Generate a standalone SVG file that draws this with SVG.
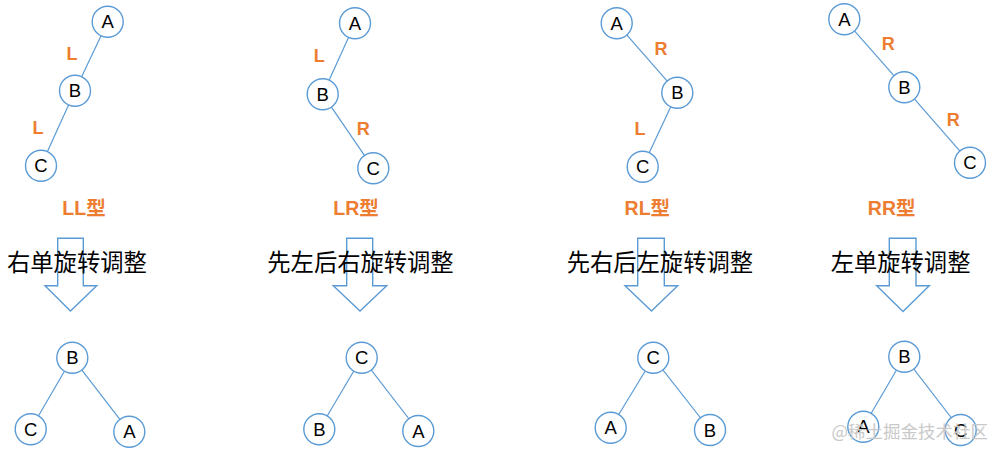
<svg xmlns="http://www.w3.org/2000/svg" width="996" height="451" viewBox="0 0 996 451">
<style>
.n circle{fill:#fff;stroke:#5b9bd5;stroke-width:1.4}
.n text{font-family:"Liberation Sans","Open Sans",sans-serif;font-size:18.5px;fill:#000;text-anchor:middle}
.e line{stroke:#5b9bd5;stroke-width:1.2}
.lbl{font-family:"Liberation Sans","Open Sans",sans-serif;font-weight:bold;font-size:18px;fill:#ed7d31;text-anchor:middle}
.ty{font-family:"Liberation Sans","Noto Sans CJK SC",sans-serif;font-weight:bold;font-size:19.5px;fill:#ed7d31;text-anchor:middle}
.arr{fill:none;stroke:#5b9bd5;stroke-width:1.4;stroke-linejoin:miter}
.cap{font-family:"Noto Sans CJK SC",sans-serif;font-size:23.3px;fill:#000}
.wm{font-family:"Noto Sans CJK SC",sans-serif;font-size:17.5px;fill:#c9c9c9}
</style>
<g id="arrows">
<polygon class="arr" points="57.7,238.3 83.3,238.3 83.3,285.7 96.7,285.7 70.5,311 45,285.7 57.7,285.7"/>
<polygon class="arr" points="346.7,238.3 372.7,238.3 372.7,285.7 386.7,285.7 360,311 333.3,285.7 346.7,285.7"/>
<polygon class="arr" points="637.7,238.3 664.3,238.3 664.3,285.7 677.7,285.7 651.5,311 625,285.7 637.7,285.7"/>
<polygon class="arr" points="889.3,238.3 916,238.3 916,285.7 929.3,285.7 903,311.5 876.7,285.7 889.3,285.7"/>
</g>
<g id="connectors" class="e">
<line x1="107.7" y1="21.7" x2="75" y2="90.7"/>
<line x1="75" y1="90.7" x2="41" y2="165.7"/>
<line x1="355" y1="23.3" x2="322.7" y2="94.3"/>
<line x1="322.7" y1="94.3" x2="373.3" y2="168.3"/>
<line x1="616.7" y1="23.3" x2="677.3" y2="92.7"/>
<line x1="677.3" y1="92.7" x2="642.7" y2="166.7"/>
<line x1="844.3" y1="19.3" x2="904.3" y2="87.3"/>
<line x1="904.3" y1="87.3" x2="970" y2="162.7"/>
<line x1="72.3" y1="357.7" x2="30.7" y2="429.3"/>
<line x1="72.3" y1="357.7" x2="129.3" y2="431.7"/>
<line x1="361.7" y1="357.7" x2="319.3" y2="429.3"/>
<line x1="361.7" y1="357.7" x2="418.3" y2="431"/>
<line x1="653.3" y1="357.7" x2="610.7" y2="427.7"/>
<line x1="653.3" y1="357.7" x2="710" y2="430"/>
<line x1="904.3" y1="356.7" x2="863.3" y2="426.7"/>
<line x1="904.3" y1="356.7" x2="960.7" y2="430"/>
</g>
<g id="p1-A" class="n"><circle cx="107.7" cy="21.7" r="15.5"/><text x="107.7" y="28.3">A</text></g>
<g id="p1-B" class="n"><circle cx="75" cy="90.7" r="15.5"/><text x="75" y="97.3">B</text></g>
<g id="p1-C" class="n"><circle cx="41" cy="165.7" r="15.5"/><text x="41" y="172.3">C</text></g>
<g id="p2-A" class="n"><circle cx="355" cy="23.3" r="15.5"/><text x="355" y="29.9">A</text></g>
<g id="p2-B" class="n"><circle cx="322.7" cy="94.3" r="15.5"/><text x="322.7" y="100.9">B</text></g>
<g id="p2-C" class="n"><circle cx="373.3" cy="168.3" r="15.5"/><text x="373.3" y="174.9">C</text></g>
<g id="p3-A" class="n"><circle cx="616.7" cy="23.3" r="15.5"/><text x="616.7" y="29.9">A</text></g>
<g id="p3-B" class="n"><circle cx="677.3" cy="92.7" r="15.5"/><text x="677.3" y="99.3">B</text></g>
<g id="p3-C" class="n"><circle cx="642.7" cy="166.7" r="15.5"/><text x="642.7" y="173.3">C</text></g>
<g id="p4-A" class="n"><circle cx="844.3" cy="19.3" r="15.5"/><text x="844.3" y="25.9">A</text></g>
<g id="p4-B" class="n"><circle cx="904.3" cy="87.3" r="15.5"/><text x="904.3" y="93.9">B</text></g>
<g id="p4-C" class="n"><circle cx="970" cy="162.7" r="15.5"/><text x="970" y="169.3">C</text></g>
<g id="r1-B" class="n"><circle cx="72.3" cy="357.7" r="15.5"/><text x="72.3" y="364.3">B</text></g>
<g id="r1-C" class="n"><circle cx="30.7" cy="429.3" r="15.5"/><text x="30.7" y="435.9">C</text></g>
<g id="r1-A" class="n"><circle cx="129.3" cy="431.7" r="15.5"/><text x="129.3" y="438.3">A</text></g>
<g id="r2-C" class="n"><circle cx="361.7" cy="357.7" r="15.5"/><text x="361.7" y="364.3">C</text></g>
<g id="r2-B" class="n"><circle cx="319.3" cy="429.3" r="15.5"/><text x="319.3" y="435.9">B</text></g>
<g id="r2-A" class="n"><circle cx="418.3" cy="431" r="15.5"/><text x="418.3" y="437.6">A</text></g>
<g id="r3-C" class="n"><circle cx="653.3" cy="357.7" r="15.5"/><text x="653.3" y="364.3">C</text></g>
<g id="r3-A" class="n"><circle cx="610.7" cy="427.7" r="15.5"/><text x="610.7" y="434.3">A</text></g>
<g id="r3-B" class="n"><circle cx="710" cy="430" r="15.5"/><text x="710" y="436.6">B</text></g>
<g id="r4-B" class="n"><circle cx="904.3" cy="356.7" r="15.5"/><text x="904.3" y="363.3">B</text></g>
<g id="r4-A" class="n"><circle cx="863.3" cy="426.7" r="15.5"/><text x="863.3" y="433.3">A</text></g>
<g id="r4-C" class="n"><circle cx="960.7" cy="430" r="15.5"/><text x="960.7" y="436.6">C</text></g>
<g id="labels">
<text class="lbl" x="72" y="59.5">L</text>
<text class="lbl" x="38" y="133.5">L</text>
<text class="lbl" x="319.3" y="61.5">L</text>
<text class="lbl" x="363.3" y="135">R</text>
<text class="lbl" x="661" y="55">R</text>
<text class="lbl" x="640" y="134.5">L</text>
<text class="lbl" x="888.3" y="50">R</text>
<text class="lbl" x="953.3" y="126">R</text>
<text class="ty" x="84" y="215">LL型</text>
<text class="ty" x="356" y="215">LR型</text>
<text class="ty" x="647.3" y="215">RL型</text>
<text class="ty" x="891.7" y="215">RR型</text>
</g>
<g id="captions">
<text class="cap" x="7" y="271">右单旋转调整</text>
<text class="cap" x="267.3" y="271">先左后右旋转调整</text>
<text class="cap" x="566.7" y="271">先右后左旋转调整</text>
<text class="cap" x="830.7" y="271">左单旋转调整</text>
</g>
<text class="wm" x="988" y="438" text-anchor="end">@稀土掘金技术社区</text>
</svg>
